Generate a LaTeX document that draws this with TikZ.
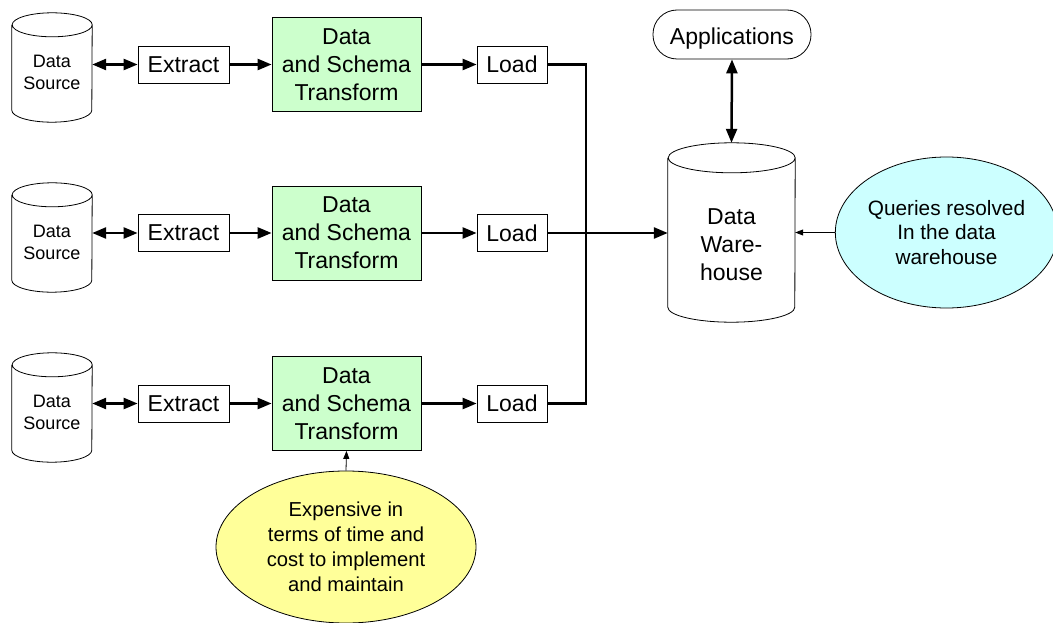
\documentclass[tikz,border=0pt]{standalone}
\usepackage{fontspec}
\setmainfont{Liberation Sans}
\usetikzlibrary{arrows.meta,shapes.geometric}

\definecolor{trgreen}{HTML}{CCFFCC}
\definecolor{qcyan}{HTML}{CCFFFF}
\definecolor{cyellow}{HTML}{FFFF99}

% outline of a drum drawn round a named rectangle node: #1 node, #2 x radius, #3 y radius
\newcommand\drumoutline[3]{%
  \draw[line width=0.8pt] ([yshift=-#3]#1.north west) -- ([yshift=#3]#1.south west)
    arc[start angle=180,end angle=360,x radius=#2,y radius=#3]
    -- ([yshift=-#3]#1.north east)
    arc[start angle=0,end angle=360,x radius=#2,y radius=#3];
}

\begin{document}
\begin{tikzpicture}[x=1pt,y=-1pt,
  box/.style={draw, line width=0.8pt, fill=white, inner sep=0pt, align=center,
    font=\fontsize{23}{28}\selectfont},
  ebox/.style={box, minimum width=91pt, minimum height=37pt},
  lbox/.style={box, minimum width=70pt, minimum height=37pt},
  tbox/.style={box, fill=trgreen, minimum width=149pt, minimum height=94pt},
  drum/.style={inner sep=0pt, minimum width=80pt, minimum height=109pt},
  bigdrum/.style={inner sep=0pt, minimum width=127pt, minimum height=179pt},
  srctext/.style={align=center, inner sep=0pt, font=\fontsize{18}{22}\selectfont},
  dwtext/.style={align=center, inner sep=0pt, font=\fontsize{23}{28}\selectfont},
  wire/.style={line width=2.5pt, line join=miter},
  flow/.style={wire, -{Triangle[length=14pt,width=11pt]}},
  both/.style={wire, {Triangle[length=14pt,width=11pt]}-{Triangle[length=14pt,width=11pt]}},
  hint/.style={line width=0.8pt, -{Triangle[length=8pt,width=6pt]}},
  note/.style={ellipse, draw, line width=0.8pt, inner sep=0pt, align=center},
]
\useasboundingbox (0,0) rectangle (1053,623);

% three source pipelines
\foreach \i/\yc/\yd in {1/64.5/67.5, 2/233/237.5, 3/403.5/407.5} {
  \node[drum] (src\i) at (52,\yd) {};
  \drumoutline{src\i}{40pt}{12pt}
  \node[srctext] (src\i t) at (52,\yd+4.5) {Data\\Source};
  \node[ebox] (ext\i) at (183.5,\yc) {Extract};
  \node[tbox] (trans\i) at (346.5,\yc) {Data\\and Schema\\Transform};
  \node[lbox] (load\i) at (512,\yc) {Load};
  \draw[both] (src\i.east |- ext\i.west) -- (ext\i.west);
  \draw[flow] (ext\i.east) -- (trans\i.west);
  \draw[flow] (trans\i.east) -- (load\i.east -| load\i.west);
}

% data warehouse
\node[bigdrum] (dw) at (731.5,232.5) {};
\drumoutline{dw}{63.5pt}{15pt}
\node[dwtext] (dwt) at (731.5,245) {Data\\Ware-\\house};

% collecting bus from the loaders
\coordinate (bus) at (586,0);
\draw[wire] (load1.east) -| (bus |- load3.east) -- (load3.east);
\draw[flow] (load2.east) -- (load2.east -| dw.west);

% applications on top of the warehouse
\node[draw, line width=0.8pt, rounded corners=24pt, minimum width=158pt, minimum height=49pt,
  inner sep=0pt, text height=20pt, text depth=0pt,
  font=\fontsize{23}{28}\selectfont] (apps) at (732,34.5) {Applications};
\draw[both] (apps.south) -- (dw.north);

% annotations
\node[note, fill=qcyan, minimum width=212pt, minimum height=151pt,
  font=\fontsize{20.8}{24.5}\selectfont] (query) at (946.5,232.5)
  {Queries resolved\\In the data\\warehouse};
\draw[hint] (query.west) -- (query.west -| dw.east);

\node[note, fill=cyellow, minimum width=260pt, minimum height=152pt,
  font=\fontsize{20.2}{25}\selectfont] (cost) at (346,547)
  {Expensive in\\terms of time and\\cost to implement\\and maintain};
\draw[hint] (cost.north) -- (trans3.south);
\end{tikzpicture}
\end{document}
